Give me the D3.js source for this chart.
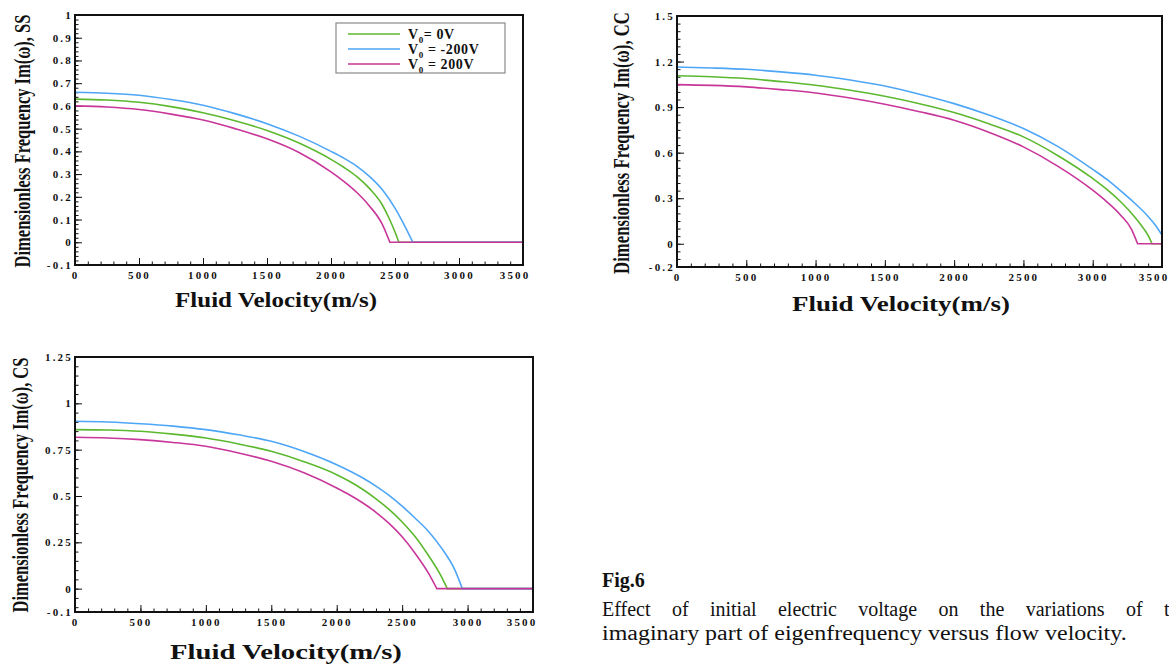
<!DOCTYPE html>
<html lang="en">
<head>
    <meta charset="UTF-8">
    <title>Fig.6 Im(omega) vs fluid velocity</title>
    <style>
        body { margin: 0; background: #ffffff; overflow: hidden; }
        svg { display: block; }
        .tick text { font-family: "Liberation Serif", "Times New Roman", Times, serif; font-weight: bold; font-size: 11px; letter-spacing: 2.2px; fill: #111; }
        .tick line { stroke: #111; stroke-width: 1; }
    </style>
</head>
<body>
    <svg id="fig" width="1169" height="664"></svg>

    <script src="https://d3js.org/d3.v7.min.js"></script>
    <script>
        // ---- data: [fluid velocity (m/s), Im(omega)] ----
        var ss0V    = [[0,0.630],[250,0.626],[500,0.616],[750,0.597],[1000,0.570],[1250,0.535],[1500,0.492],[1750,0.437],[2000,0.365],[2100,0.330],[2200,0.290],[2300,0.237],[2400,0.165],[2450,0.110],[2500,0.045],[2530,0]];
        var ssM200V = [[0,0.660],[250,0.656],[500,0.647],[750,0.628],[1000,0.603],[1250,0.566],[1500,0.522],[1750,0.467],[2000,0.400],[2100,0.370],[2200,0.335],[2300,0.290],[2400,0.232],[2500,0.150],[2550,0.100],[2600,0.045],[2640,0]];
        var ssP200V = [[0,0.600],[250,0.595],[500,0.584],[750,0.564],[1000,0.538],[1250,0.500],[1500,0.455],[1750,0.395],[2000,0.310],[2100,0.268],[2200,0.220],[2300,0.160],[2400,0.080],[2460,0]];

        var cc0V    = [[0,1.107],[250,1.100],[500,1.088],[750,1.068],[1000,1.044],[1250,1.011],[1500,0.971],[1750,0.922],[2000,0.864],[2250,0.790],[2500,0.704],[2750,0.580],[3000,0.430],[3100,0.360],[3200,0.278],[3300,0.180],[3350,0.122],[3400,0.055],[3428,0]];
        var ccM200V = [[0,1.164],[250,1.158],[500,1.149],[750,1.132],[1000,1.110],[1250,1.078],[1500,1.039],[1750,0.985],[2000,0.923],[2250,0.848],[2500,0.759],[2750,0.640],[3000,0.490],[3100,0.425],[3200,0.350],[3300,0.270],[3400,0.180],[3450,0.125],[3500,0.057]];
        var ccP200V = [[0,1.048],[250,1.043],[500,1.033],[750,1.015],[1000,0.993],[1250,0.960],[1500,0.919],[1750,0.870],[2000,0.814],[2250,0.735],[2500,0.638],[2750,0.510],[3000,0.353],[3100,0.278],[3200,0.190],[3280,0.095],[3324,0]];

        var cs0V    = [[0,0.858],[250,0.856],[500,0.849],[750,0.834],[1000,0.813],[1250,0.781],[1500,0.741],[1750,0.685],[2000,0.615],[2100,0.578],[2200,0.535],[2300,0.485],[2400,0.428],[2500,0.360],[2600,0.280],[2700,0.180],[2800,0.065],[2845,0]];
        var csM200V = [[0,0.903],[250,0.899],[500,0.890],[750,0.877],[1000,0.858],[1250,0.830],[1500,0.795],[1750,0.740],[2000,0.669],[2100,0.635],[2200,0.597],[2300,0.553],[2400,0.503],[2500,0.445],[2600,0.380],[2700,0.310],[2800,0.220],[2900,0.105],[2960,0]];
        var csP200V = [[0,0.817],[250,0.813],[500,0.804],[750,0.789],[1000,0.768],[1250,0.732],[1500,0.687],[1750,0.625],[2000,0.543],[2100,0.505],[2200,0.462],[2300,0.412],[2400,0.352],[2500,0.280],[2600,0.190],[2700,0.085],[2765,0]];

        // ---- axis ticks ----
        var xTicks = [0, 500, 1000, 1500, 2000, 2500, 3000, 3500];
        var xMinor = d3.range(0, 3501, 100);

        var ssYTicks  = [-0.1, 0, 0.1, 0.2, 0.3, 0.4, 0.5, 0.6, 0.7, 0.8, 0.9, 1];
        var ssYLabels = ["-0.1", "0", "0.1", "0.2", "0.3", "0.4", "0.5", "0.6", "0.7", "0.8", "0.9", "1"];
        var ccYTicks  = [-0.153, 0, 0.3, 0.6, 0.9, 1.2, 1.5];
        var ccYLabels = ["-0.2", "0", "0.3", "0.6", "0.9", "1.2", "1.5"];
        var csYTicks  = [-0.126, 0, 0.25, 0.5, 0.75, 1, 1.25];
        var csYLabels = ["-0.1", "0", "0.25", "0.5", "0.75", "1", "1.25"];

        var seriesNames  = ["V0= 0V", "V0 = -200V", "V0 = 200V"];
        var seriesColors = ["#5cb82f", "#4ea6f7", "#c8369a"];

        var serif = "'Liberation Serif', 'Times New Roman', Times, serif";
        var svg = d3.select("#fig");

        // squeeze a text to a given length with a transform instead of textLength
        function fitText(sel, target, rotate) {
            var w = sel.node().getComputedTextLength();
            var k = target / w;
            var base = sel.attr("data-base");
            sel.attr("transform", base + (rotate ? " rotate(-90)" : "") + " scale(" + k + ",1)");
        }

        function drawPanel(p) {
            var x = d3.scaleLinear().domain([0, 3500]).range([p.left, p.right]);
            var y = d3.scaleLinear().domain(p.yDomain).range([p.bottom, p.top]);
            var g = svg.append("g");

            // minor ticks
            g.append("g").attr("transform", "translate(0," + p.bottom + ")")
                .call(d3.axisBottom(x).tickValues(xMinor).tickSize(-3.5).tickFormat(""))
                .call(function(a) { a.select(".domain").remove(); });
            g.append("g").attr("transform", "translate(" + p.left + ",0)")
                .call(d3.axisLeft(y).tickValues(p.yMinor).tickSize(-3.5).tickFormat(""))
                .call(function(a) { a.select(".domain").remove(); });

            // major ticks + labels
            var xa = g.append("g").attr("transform", "translate(0," + p.bottom + ")")
                .call(d3.axisBottom(x).tickValues(xTicks).tickSize(-7).tickPadding(6).tickFormat(d3.format("d")));
            xa.select(".domain").remove();
            // last label is pulled inside like the original
            xa.selectAll(".tick text").filter(function(d) { return d === 3500; })
                .attr("text-anchor", "end").attr("dx", p.lastDx);

            var ya = g.append("g").attr("transform", "translate(" + p.left + ",0)")
                .call(d3.axisLeft(y).tickValues(p.yTicks).tickSize(-7).tickPadding(4)
                    .tickFormat(function(d, i) { return p.yLabels[i]; }));
            ya.select(".domain").remove();
            ya.selectAll(".tick text").attr("dx", "2px");

            // curves
            var line = d3.line().x(function(d) { return x(d[0]); }).y(function(d) { return y(d[1]); })
                .curve(d3.curveMonotoneX);
            [0, 1, 2].forEach(function(k) {
                var pts = p.series[k];
                var last = pts[pts.length - 1];
                var path = line(pts);
                if (last[1] === 0) path += "L" + x(3500) + "," + y(0);
                g.append("path").attr("d", path).attr("fill", "none")
                    .attr("stroke", seriesColors[k]).attr("stroke-width", 1.6);
            });

            // frame
            g.append("rect").attr("x", p.left).attr("y", p.top)
                .attr("width", p.right - p.left).attr("height", p.bottom - p.top)
                .attr("fill", "none").attr("stroke", "#111").attr("stroke-width", 2);

            // titles
            var xt = g.append("text")
                .attr("data-base", "translate(" + p.xTitle[0] + "," + p.xTitle[1] + ")")
                .attr("text-anchor", "middle")
                .style("font-family", serif).style("font-weight", "bold")
                .style("font-size", "20px").attr("fill", "#111")
                .text("Fluid Velocity(m/s)");
            fitText(xt, p.xTitle[2], false);

            var yt = g.append("text")
                .attr("data-base", "translate(" + p.yTitle[0] + "," + p.yTitle[1] + ")")
                .attr("text-anchor", "middle")
                .style("font-family", serif).style("font-weight", "bold")
                .style("font-size", "24px").attr("fill", "#111")
                .text("Dimensionless Frequency Im(\u03c9), " + p.tag);
            fitText(yt, p.yTitle[2], true);

            return { x: x, y: y, g: g };
        }

        var ss = drawPanel({
            left: 75, right: 523, top: 15, bottom: 265, yDomain: [-0.1, 1],
            yTicks: ssYTicks, yLabels: ssYLabels, yMinor: d3.range(-0.1, 1.001, 0.02),
            series: [ss0V, ssM200V, ssP200V], lastDx: "7px",
            xTitle: [276, 307, 202], yTitle: [30, 141, 253], tag: "SS"
        });
        drawPanel({
            left: 677, right: 1162, top: 16, bottom: 267, yDomain: [-0.153, 1.5],
            yTicks: ccYTicks, yLabels: ccYLabels, yMinor: d3.range(-0.15, 1.501, 0.05),
            series: [cc0V, ccM200V, ccP200V], lastDx: "7px",
            xTitle: [901, 311, 218], yTitle: [629, 143, 262], tag: "CC"
        });
        drawPanel({
            left: 75, right: 533, top: 357, bottom: 612, yDomain: [-0.126, 1.25],
            yTicks: csYTicks, yLabels: csYLabels, yMinor: d3.range(-0.1, 1.251, 0.05),
            series: [cs0V, csM200V, csP200V], lastDx: "4px",
            xTitle: [286, 659, 232], yTitle: [28, 485, 255], tag: "CS"
        });

        // legend (SS panel)
        var leg = ss.g.append("g");
        leg.append("rect").attr("x", 336).attr("y", 23).attr("width", 169).attr("height", 50)
            .attr("fill", "#fff").attr("stroke", "#8a8a8a").attr("stroke-width", 1.2);
        seriesNames.forEach(function(name, i) {
            var yy = 34 + i * 15;
            leg.append("line").attr("x1", 348).attr("x2", 400).attr("y1", yy).attr("y2", yy)
                .attr("stroke", seriesColors[i]).attr("stroke-width", 1.6);
            var t = leg.append("text").attr("x", 408).attr("y", yy + 5)
                .style("font-family", serif).style("font-weight", "bold")
                .style("font-size", "14px").style("letter-spacing", "0.6px").attr("fill", "#111");
            t.append("tspan").text("V");
            t.append("tspan").attr("dy", 4).style("font-size", "9px").text("0");
            t.append("tspan").attr("dy", -4).text(name.slice(2));
        });

        // caption
        var cap = svg.append("g").style("font-family", serif).attr("fill", "#111");
        cap.append("text").attr("x", 602).attr("y", 587).style("font-weight", "bold")
            .style("font-size", "20px").text("Fig.6");

        var words = "Effect of initial electric voltage on the variations of the".split(" ");
        var line2 = cap.append("text").attr("y", 616).style("font-size", "20px");
        var spans = words.map(function(w) { return line2.append("tspan").text(w); });
        var widths = spans.map(function(s) { return s.node().getComputedTextLength(); });
        var used = d3.sum(widths.slice(0, widths.length - 1));
        var gap = (1164 - 602 - used) / (words.length - 1);
        var cx = 602;
        spans.forEach(function(s, i) { s.attr("x", cx); cx += widths[i] + gap; });

        var line3 = cap.append("text").attr("data-base", "translate(602,640)")
            .style("font-size", "20px")
            .text("imaginary part of eigenfrequency versus flow velocity.");
        fitText(line3, 525, false);
    </script>
</body>
</html>
